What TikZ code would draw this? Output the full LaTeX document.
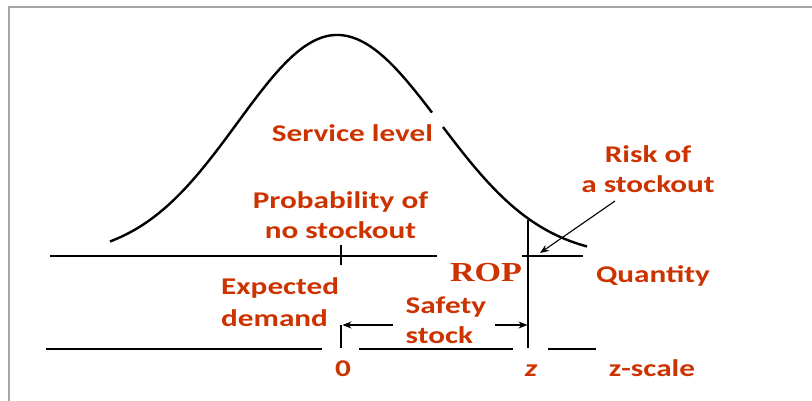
\documentclass[tikz,border=0pt]{standalone}
\usepackage{fontspec}
\setmainfont{Carlito}[FakeStretch=1.3]
\newfontfamily\ropfont{Liberation Serif}[FakeStretch=1.24]
\usetikzlibrary{arrows.meta}
\definecolor{slred}{RGB}{204,51,0}

\begin{document}
\begin{tikzpicture}[
    x=1pt,
    y=-1pt,
    lbl/.style={text=slred, font=\fontsize{24}{30}\selectfont\bfseries, inner sep=0pt},
    axis/.style={line width=1.1pt},
    arr/.style={line width=1.1pt, -{Stealth[length=9pt,width=7pt]}}
  ]
    \useasboundingbox (0,0) rectangle (812,401);
    \draw[gray!70, line width=1.8pt] (9,401) -- (9,7) -- (812,7);

    % Normal curve (gap where the label sits)
    \draw[line width=2.4pt] plot[domain=110:337, samples=60, smooth]
      (\x, {258-223*exp(-((\x-337)/100)^2/1.98)})
      -- plot[domain=337:432, samples=30, smooth]
      (\x, {258-223*exp(-((\x-337)/100)^2/2.11)});
    \draw[line width=2.4pt] plot[domain=443:587, samples=40, smooth]
      (\x, {258-223*exp(-((\x-337)/100)^2/2.11)});

    % Quantity axis
    \draw[axis] (50,256) -- (437,256);
    \draw[axis] (522,256) -- (583,256);
    \draw[axis] (341,245) -- (341,265);
    \draw[axis] (528,220) -- (528,348);

    % z-scale axis
    \draw[axis] (46,349) -- (322,349);
    \draw[axis] (359,349) -- (513,349);
    \draw[axis] (548,349) -- (596,349);
    \draw[axis] (341,325) -- (341,348);

    % Labels (base = baseline of the last line)
    \node[lbl, anchor=base] (serv) at (352.5,142) {Service level};
    \node[lbl, anchor=base, align=center] (prob) at (340.5,238)
      {Probability of\\no stockout};
    \node[lbl, anchor=base, align=center] (risk) at (648,193)
      {Risk of\\a stockout};
    \node[lbl, anchor=base, text=slred, font=\fontsize{27.5}{30}\selectfont\ropfont\bfseries]
      (rop) at (486,281) {ROP};
    \node[lbl, anchor=base] (qty) at (653,282) {Quantity};
    \node[lbl, anchor=base west, align=left] (expd) at (221,326)
      {Expected\\[2pt]demand};
    \node[lbl, anchor=base west, align=left] (safe) at (405.5,343)
      {Safety\\stock};
    \node[lbl, anchor=base] (zero) at (343,376.5) {0};
    \node[lbl, anchor=base] (zval) at (531,376.5) {\itshape z};
    \node[lbl, anchor=base] (zsc) at (652,376.5) {z-scale};

    % Arrows
    \coordinate (ssleft) at (393,325);
    \coordinate (ssright) at (495,325);
    \coordinate (zerotip) at (342.5,325);
    \coordinate (roptip) at (527.5,325);
    \coordinate (risktail) at (615,201);
    \coordinate (risktip) at (540,253);
    \draw[arr] (ssleft) -- (zerotip);
    \draw[arr] (ssright) -- (roptip);
    \draw[arr] (risktail) -- (risktip);
  \end{tikzpicture}
\end{document}
